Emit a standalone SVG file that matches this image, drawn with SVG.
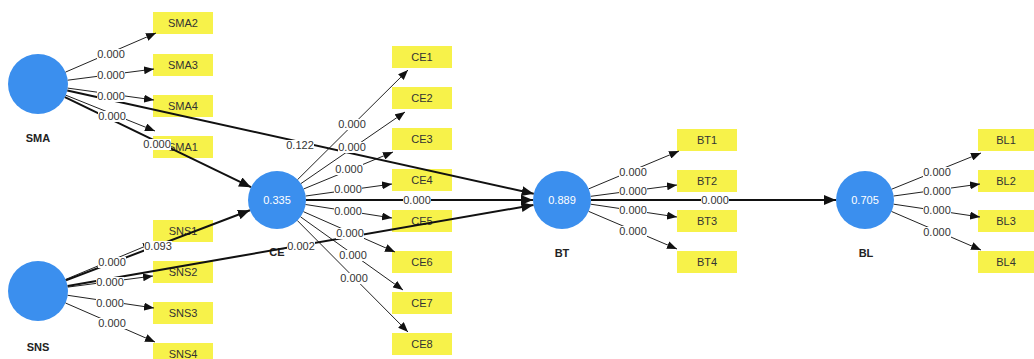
<svg xmlns="http://www.w3.org/2000/svg" width="1034" height="359" viewBox="0 0 1034 359">
<style>
.lv{fill:#3b8fee}
.ind{fill:#f7f24a}
.it{font-family:"Liberation Sans",Arial,sans-serif;font-size:11px;fill:#333;text-anchor:middle}
.vt{font-family:"Liberation Sans",Arial,sans-serif;font-size:11px;fill:#fff;text-anchor:middle}
.nt{font-family:"Liberation Sans",Arial,sans-serif;font-size:11px;font-weight:bold;fill:#222;text-anchor:middle}
.c1{stroke:#222;stroke-width:1;fill:none;marker-end:url(#ah)}
.c2{stroke:#111;stroke-width:2;fill:none;marker-end:url(#ah2)}
.lb rect{fill:#fff}
.lb text{font-family:"Liberation Sans",Arial,sans-serif;font-size:11px;fill:#333;text-anchor:middle}
</style>
<defs>
<marker id="ah" markerWidth="10" markerHeight="8" refX="10" refY="4" orient="auto" markerUnits="userSpaceOnUse"><path d="M0,0 L10,4 L0,8 z" fill="#111"/></marker>
<marker id="ah2" markerWidth="12" markerHeight="10" refX="12" refY="5" orient="auto" markerUnits="userSpaceOnUse"><path d="M0,0 L12,5 L0,10 z" fill="#111"/></marker>
</defs>
<rect width="1034" height="359" fill="#fff"/>

<g id="SMA"><circle class="lv" cx="38" cy="84" r="30"/><text class="nt" x="38" y="142">SMA</text></g>
<g id="SNS"><circle class="lv" cx="38" cy="291" r="30"/><text class="nt" x="38" y="351">SNS</text></g>
<g id="CE"><circle class="lv" cx="277" cy="200" r="29"/><text class="vt" x="277" y="204">0.335</text><text class="nt" x="277" y="256">CE</text></g>
<g id="BT"><circle class="lv" cx="562" cy="200" r="29"/><text class="vt" x="562" y="204">0.889</text><text class="nt" x="562" y="257">BT</text></g>
<g id="BL"><circle class="lv" cx="865" cy="200" r="29"/><text class="vt" x="865" y="204">0.705</text><text class="nt" x="866" y="257">BL</text></g>

<g id="SMA2"><rect class="ind" x="153" y="12" width="60" height="22"/><text class="it" x="183" y="27">SMA2</text></g>
<g id="SMA3"><rect class="ind" x="153" y="54" width="60" height="22"/><text class="it" x="183" y="69">SMA3</text></g>
<g id="SMA4"><rect class="ind" x="153" y="95" width="60" height="22"/><text class="it" x="183" y="110">SMA4</text></g>
<g id="SMA1"><rect class="ind" x="153" y="136" width="60" height="22"/><text class="it" x="183" y="151">SMA1</text></g>

<g id="SNS1"><rect class="ind" x="153" y="220" width="60" height="22"/><text class="it" x="183" y="235">SNS1</text></g>
<g id="SNS2"><rect class="ind" x="153" y="261" width="60" height="22"/><text class="it" x="183" y="276">SNS2</text></g>
<g id="SNS3"><rect class="ind" x="153" y="302" width="60" height="22"/><text class="it" x="183" y="317">SNS3</text></g>
<g id="SNS4"><rect class="ind" x="153" y="343" width="60" height="22"/><text class="it" x="183" y="358">SNS4</text></g>

<g id="CE1"><rect class="ind" x="392" y="46" width="60" height="22"/><text class="it" x="422" y="61">CE1</text></g>
<g id="CE2"><rect class="ind" x="392" y="87" width="60" height="22"/><text class="it" x="422" y="102">CE2</text></g>
<g id="CE3"><rect class="ind" x="392" y="128" width="60" height="22"/><text class="it" x="422" y="143">CE3</text></g>
<g id="CE4"><rect class="ind" x="392" y="169" width="60" height="22"/><text class="it" x="422" y="184">CE4</text></g>
<g id="CE5"><rect class="ind" x="392" y="210" width="60" height="22"/><text class="it" x="422" y="225">CE5</text></g>
<g id="CE6"><rect class="ind" x="392" y="251" width="60" height="22"/><text class="it" x="422" y="266">CE6</text></g>
<g id="CE7"><rect class="ind" x="392" y="292" width="60" height="22"/><text class="it" x="422" y="307">CE7</text></g>
<g id="CE8"><rect class="ind" x="392" y="333" width="60" height="22"/><text class="it" x="422" y="348">CE8</text></g>

<g id="BT1"><rect class="ind" x="677" y="129" width="60" height="22"/><text class="it" x="707" y="144">BT1</text></g>
<g id="BT2"><rect class="ind" x="677" y="170" width="60" height="22"/><text class="it" x="707" y="185">BT2</text></g>
<g id="BT3"><rect class="ind" x="677" y="210" width="60" height="22"/><text class="it" x="707" y="225">BT3</text></g>
<g id="BT4"><rect class="ind" x="677" y="251" width="60" height="22"/><text class="it" x="707" y="266">BT4</text></g>

<g id="BL1"><rect class="ind" x="978" y="129" width="56" height="22"/><text class="it" x="1006" y="144">BL1</text></g>
<g id="BL2"><rect class="ind" x="978" y="170" width="56" height="22"/><text class="it" x="1006" y="185">BL2</text></g>
<g id="BL3"><rect class="ind" x="978" y="210" width="56" height="22"/><text class="it" x="1006" y="225">BL3</text></g>
<g id="BL4"><rect class="ind" x="978" y="251" width="56" height="22"/><text class="it" x="1006" y="266">BL4</text></g>

<g id="connectors">
<line class="c1" x1="65.5" y1="72.1" x2="156" y2="33"/>
<line class="c1" x1="67.7" y1="80.2" x2="154" y2="69"/>
<line class="c1" x1="67.7" y1="88.1" x2="154" y2="100"/>
<line class="c1" x1="65.8" y1="95.2" x2="155" y2="131"/>
<line class="c1" x1="65.7" y1="279.4" x2="153" y2="243"/>
<line class="c1" x1="67.8" y1="287.1" x2="153" y2="276"/>
<line class="c1" x1="67.7" y1="295.3" x2="154" y2="308"/>
<line class="c1" x1="65.5" y1="303" x2="155" y2="342"/>
<line class="c1" x1="297.6" y1="179.6" x2="408" y2="70"/>
<line class="c1" x1="300.9" y1="183.6" x2="405" y2="112"/>
<line class="c1" x1="303.8" y1="188.9" x2="393" y2="152"/>
<line class="c1" x1="305.7" y1="196" x2="392" y2="184"/>
<line class="c1" x1="305.6" y1="204.5" x2="392" y2="218"/>
<line class="c1" x1="303.5" y1="211.7" x2="395" y2="252"/>
<line class="c1" x1="300.6" y1="216.9" x2="403" y2="290"/>
<line class="c1" x1="297.4" y1="220.6" x2="408" y2="332"/>
<line class="c1" x1="588.8" y1="188.8" x2="679" y2="151"/>
<line class="c1" x1="590.8" y1="196.3" x2="677" y2="185"/>
<line class="c1" x1="590.7" y1="204.2" x2="677" y2="217"/>
<line class="c1" x1="588.7" y1="211.4" x2="677" y2="249"/>
<line class="c1" x1="891.9" y1="189.1" x2="981" y2="153"/>
<line class="c1" x1="893.7" y1="196" x2="980" y2="184"/>
<line class="c1" x1="893.7" y1="204.2" x2="980" y2="217"/>
<line class="c1" x1="891.6" y1="211.5" x2="981" y2="250"/>
<line class="c2" x1="64.9" y1="97.2" x2="251" y2="187.2"/>
<line class="c2" x1="67.3" y1="90.5" x2="533.7" y2="193.7"/>
<line class="c2" x1="66" y1="280.3" x2="249.9" y2="210.3"/>
<line class="c2" x1="67.6" y1="285.9" x2="533.4" y2="205"/>
<line class="c2" x1="306" y1="200" x2="533" y2="200"/>
<line class="c2" x1="591" y1="200" x2="836" y2="200"/>

<g class="lb"><rect x="97" y="49" width="28" height="11"/><text x="111" y="58">0.000</text></g>
<g class="lb"><rect x="97" y="70" width="28" height="11"/><text x="111" y="79">0.000</text></g>
<g class="lb"><rect x="97" y="91" width="28" height="11"/><text x="111" y="100">0.000</text></g>
<g class="lb"><rect x="98" y="111" width="28" height="11"/><text x="112" y="120">0.000</text></g>
<g class="lb"><rect x="143" y="139" width="28" height="11"/><text x="157" y="148">0.000</text></g>
<g class="lb"><rect x="286" y="140" width="28" height="11"/><text x="300" y="149">0.122</text></g>
<g class="lb"><rect x="98" y="257" width="28" height="11"/><text x="112" y="266">0.000</text></g>
<g class="lb"><rect x="96" y="277" width="28" height="11"/><text x="110" y="286">0.000</text></g>
<g class="lb"><rect x="96" y="298" width="28" height="11"/><text x="110" y="307">0.000</text></g>
<g class="lb"><rect x="98" y="318" width="28" height="11"/><text x="112" y="327">0.000</text></g>
<g class="lb"><rect x="144" y="241" width="28" height="11"/><text x="158" y="250">0.093</text></g>
<g class="lb"><rect x="287" y="241" width="28" height="11"/><text x="301" y="250">0.002</text></g>
<g class="lb"><rect x="338" y="119" width="28" height="11"/><text x="352" y="128">0.000</text></g>
<g class="lb"><rect x="338" y="142" width="28" height="11"/><text x="352" y="151">0.000</text></g>
<g class="lb"><rect x="335" y="164" width="28" height="11"/><text x="349" y="173">0.000</text></g>
<g class="lb"><rect x="334" y="184" width="28" height="11"/><text x="348" y="193">0.000</text></g>
<g class="lb"><rect x="334" y="206" width="28" height="11"/><text x="348" y="215">0.000</text></g>
<g class="lb"><rect x="336" y="228" width="28" height="11"/><text x="350" y="237">0.000</text></g>
<g class="lb"><rect x="339" y="250" width="28" height="11"/><text x="353" y="259">0.000</text></g>
<g class="lb"><rect x="340" y="273" width="28" height="11"/><text x="354" y="282">0.000</text></g>
<g class="lb"><rect x="403" y="195" width="28" height="11"/><text x="417" y="204">0.000</text></g>
<g class="lb"><rect x="619" y="167" width="28" height="11"/><text x="633" y="176">0.000</text></g>
<g class="lb"><rect x="619" y="186" width="28" height="11"/><text x="633" y="195">0.000</text></g>
<g class="lb"><rect x="619" y="205" width="28" height="11"/><text x="633" y="214">0.000</text></g>
<g class="lb"><rect x="619" y="226" width="28" height="11"/><text x="633" y="235">0.000</text></g>
<g class="lb"><rect x="701" y="195" width="28" height="11"/><text x="715" y="204">0.000</text></g>
<g class="lb"><rect x="923" y="167" width="28" height="11"/><text x="937" y="176">0.000</text></g>
<g class="lb"><rect x="923" y="186" width="28" height="11"/><text x="937" y="195">0.000</text></g>
<g class="lb"><rect x="923" y="205" width="28" height="11"/><text x="937" y="214">0.000</text></g>
<g class="lb"><rect x="923" y="227" width="28" height="11"/><text x="937" y="236">0.000</text></g>
</g>
</svg>
